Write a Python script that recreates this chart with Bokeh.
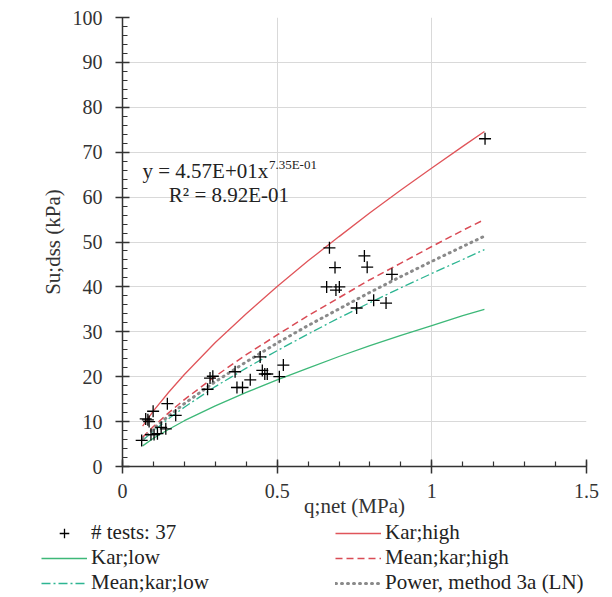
from bokeh.plotting import figure
from bokeh.layouts import column
from bokeh.models import (SingleIntervalTicker, NumeralTickFormatter, Legend, LegendItem,
                          Label, Range1d, ColumnDataSource)
from bokeh.embed import file_html
from bokeh.resources import INLINE

FONT = "Liberation Serif"
TICK_FS = "20px"
FS = "21px"

# measured tests
tests_q = [0.062, 0.092, 0.102, 0.113, 0.125, 0.140, 0.075, 0.082, 0.086, 0.099, 0.145, 0.172,
           0.275, 0.283, 0.292, 0.364, 0.370, 0.388, 0.413, 0.445, 0.452, 0.460, 0.468, 0.507, 0.520,
           0.660, 0.669, 0.687, 0.690, 0.701, 0.757, 0.782, 0.791, 0.812, 0.852, 0.871, 1.172]
tests_su = [5.8, 7.1, 7.1, 7.3, 8.7, 8.4, 10.6, 10.4, 10.0, 12.3, 14.0, 11.4,
            17.2, 19.7, 20.1, 21.1, 17.6, 17.6, 19.3, 24.4, 21.4, 20.6, 20.6, 20.0, 22.6,
            40.0, 48.7, 44.3, 39.3, 40.0, 35.3, 46.9, 44.4, 37.0, 36.4, 42.8, 73.0]

# curves
curve_q = [0.065, 0.1, 0.15, 0.2, 0.3, 0.4, 0.5, 0.6, 0.7, 0.8, 0.9, 1.0, 1.1, 1.17]
kar_high = [9.0, 12.4, 16.6, 20.5, 27.6, 34.0, 40.1, 45.8, 51.2, 56.5, 61.6, 66.5, 71.3, 74.6]
kar_low = [4.6, 6.3, 8.3, 10.2, 13.5, 16.5, 19.3, 21.9, 24.5, 26.9, 29.2, 31.4, 33.6, 35.0]
mean_kar_high = [6.5, 8.9, 12.0, 14.9, 20.1, 24.9, 29.3, 33.6, 37.6, 41.6, 45.3, 49.0, 52.6, 55.0]
mean_kar_low = [5.8, 7.9, 10.7, 13.2, 17.8, 21.9, 25.8, 29.5, 33.1, 36.5, 39.8, 43.0, 46.1, 48.3]
power_fit = [6.1, 8.4, 11.3, 14.0, 18.9, 23.3, 27.5, 31.4, 35.1, 38.8, 42.3, 45.7, 49.0, 51.3]

n_tests = len(tests_q)
legend_labels = ["# tests: %d" % n_tests, "Kar;high", "Kar;low", "Mean;kar;high",
                 "Mean;kar;low", "Power, method 3a (LN)"]

STYLES = {
    "kh": dict(line_color="#E0555A", line_width=1.3),
    "kl": dict(line_color="#3DB878", line_width=1.3),
    "mh": dict(line_color="#D94B55", line_width=1.5, line_dash="7 4"),
    "ml": dict(line_color="#2DB592", line_width=1.3, line_dash="9 3 2 3"),
    "pw": dict(line_color="#8A8A8A", line_width=3, line_dash="1 5", line_cap="round"),
}
MARKER = dict(marker="cross", size=12, line_color="black", line_width=1.3)

src_c = ColumnDataSource(dict(q=curve_q, kh=kar_high, kl=kar_low, mh=mean_kar_high,
                              ml=mean_kar_low, pw=power_fit))
src_t = ColumnDataSource(dict(q=tests_q, su=tests_su))

# ---------------- main chart ----------------
p = figure(width=610, height=520, output_backend="svg", toolbar_location=None,
           x_range=Range1d(0, 1.5), y_range=Range1d(0, 100),
           min_border_left=122, min_border_right=24, min_border_top=17, min_border_bottom=53)
p.frame_align = False
p.outline_line_color = None
p.background_fill_color = "white"

for key in ("kh", "kl", "mh", "ml", "pw"):
    p.line("q", key, source=src_c, **STYLES[key])
p.scatter("q", "su", source=src_t, **MARKER)

for ax, iv in ((p.xaxis, 0.5), (p.yaxis, 10)):
    ax.ticker = SingleIntervalTicker(interval=iv, num_minor_ticks=5)
    ax.major_tick_in = 7
    ax.major_tick_out = 7
    ax.minor_tick_in = 5
    ax.minor_tick_out = 0
    ax.axis_line_color = "#333333"
    ax.axis_line_width = 1.5
    ax.major_tick_line_color = "#333333"
    ax.major_tick_line_width = 1.5
    ax.minor_tick_line_color = "#333333"
    ax.minor_tick_line_width = 1.2
    ax.major_label_text_font = FONT
    ax.major_label_text_font_size = TICK_FS
    ax.major_label_text_color = "#333333"
    ax.axis_label_text_font = FONT
    ax.axis_label_text_font_size = FS
    ax.axis_label_text_font_style = "normal"
    ax.axis_label_text_color = "#333333"

p.xaxis.formatter = NumeralTickFormatter(format="0.[0]")
p.xaxis.axis_label = "q;net (MPa)"
p.yaxis.axis_label = "Su;dss (kPa)"
p.xaxis.major_label_standoff = 10
p.yaxis.major_label_standoff = 13
p.xaxis.axis_label_standoff = -7
p.yaxis.axis_label_standoff = 5

p.xgrid.grid_line_color = "#D9D9D9"
p.ygrid.grid_line_color = "#D9D9D9"

p.add_layout(Label(x=0.0647, y=65.9, text="y = 4.57E+01x", text_font=FONT,
                   text_font_size=FS, text_baseline="middle", text_color="#222222"))
p.add_layout(Label(x=0.4733, y=67.2, text="7.35E-01", text_font=FONT,
                   text_font_size="13px", text_baseline="middle", text_color="#222222"))
p.add_layout(Label(x=0.1498, y=60.5, text="R\u00b2 = 8.92E-01", text_font=FONT,
                   text_font_size=FS, text_baseline="middle", text_color="#222222"))

# ---------------- legend strip (same series, view range kept away from the data) ----------------
lg = figure(width=610, height=76, output_backend="svg", toolbar_location=None,
            x_axis_location=None, y_axis_location=None,
            x_range=Range1d(-3, -2), y_range=Range1d(-3, -2),
            min_border_left=0, min_border_right=0, min_border_top=0, min_border_bottom=0)
lg.frame_align = False
lg.outline_line_color = None
lg.xgrid.visible = False
lg.ygrid.visible = False

leg_r = {key: lg.line("q", key, source=src_c, **STYLES[key]) for key in STYLES}
leg_t = lg.scatter("q", "su", source=src_t, **MARKER)
renderers = [leg_t, leg_r["kh"], leg_r["kl"], leg_r["mh"], leg_r["ml"], leg_r["pw"]]

legend = Legend(items=[LegendItem(label=l, renderers=[r]) for l, r in zip(legend_labels, renderers)],
                location=(41, 1), orientation="horizontal", ncols=2,
                glyph_width=46, glyph_height=24, label_height=24, label_width=244,
                label_standoff=4, spacing=0, padding=0, margin=0,
                border_line_color=None, background_fill_alpha=0,
                label_text_font=FONT, label_text_font_size=FS, label_text_color="#222222")
lg.add_layout(legend)

open("out.html", "w").write(file_html(column(p, lg, spacing=0), INLINE))
